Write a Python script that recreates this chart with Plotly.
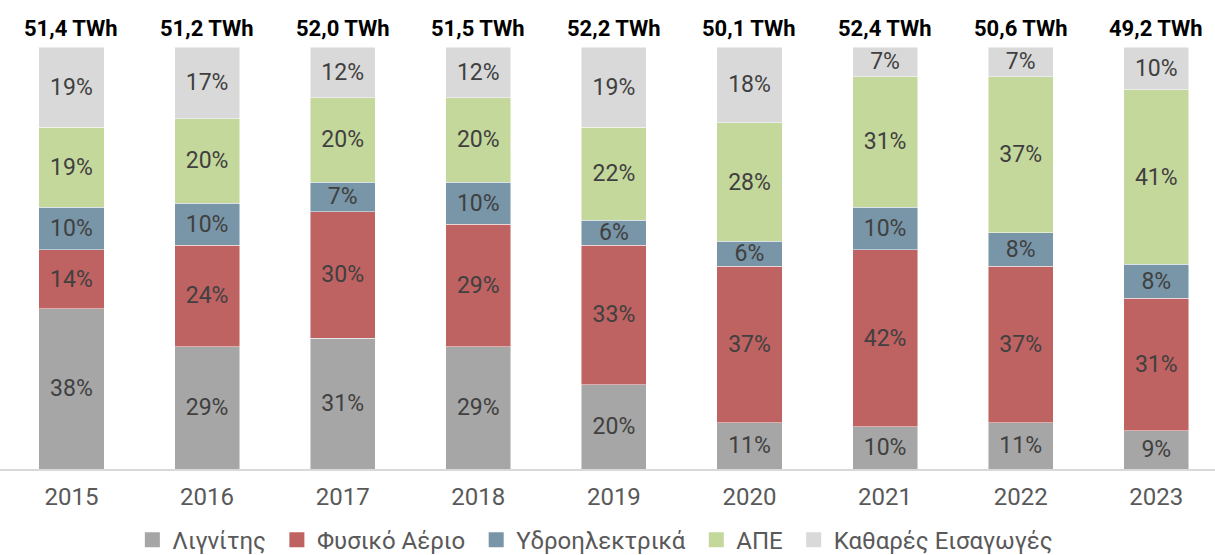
import plotly.graph_objects as go

years = ["2015", "2016", "2017", "2018", "2019", "2020", "2021", "2022", "2023"]
totals = ["51,4 TWh", "51,2 TWh", "52,0 TWh", "51,5 TWh", "52,2 TWh", "50,1 TWh", "52,4 TWh", "50,6 TWh", "49,2 TWh"]

lignite = [38, 29, 31, 29, 20, 11, 10, 11, 9]
gas = [14, 24, 30, 29, 33, 37, 42, 37, 31]
hydro = [10, 10, 7, 10, 6, 6, 10, 8, 8]
res = [19, 20, 20, 20, 22, 28, 31, 37, 41]
imports = [19, 17, 12, 12, 19, 18, 7, 7, 10]

series = [
    ("Λιγνίτης", lignite, "#A6A6A6"),
    ("Φυσικό Αέριο", gas, "#BF6262"),
    ("Υδροηλεκτρικά", hydro, "#7896A8"),
    ("ΑΠΕ", res, "#C5D89C"),
    ("Καθαρές Εισαγωγές", imports, "#D9D9D9"),
]

x = list(range(len(years)))
fig = go.Figure()
for name, vals, color in series:
    fig.add_trace(go.Bar(
        x=x, y=vals, name=name, showlegend=False,
        marker=dict(color=color, line=dict(color="rgba(255,255,255,0.6)", width=0.8)),
        text=[f"{v}%" for v in vals],
        textposition="inside", insidetextanchor="middle", textangle=0,
        textfont=dict(family="Roboto", size=23, color="#404040"),
        hoverinfo="skip",
    ))

# legend entries with square swatches
for k, (name, vals, color) in enumerate(series):
    label = name + ("\u00a0" if k < len(series) - 1 else "")
    fig.add_trace(go.Scatter(
        x=[None], y=[None], mode="markers", name=label,
        marker=dict(symbol="square", size=15, color=color),
        hoverinfo="skip", showlegend=True,
    ))

for i, t in enumerate(totals):
    fig.add_annotation(x=i, y=100, xref="x", yref="y", text=f"<b>{t}</b>",
                       showarrow=False, yanchor="bottom", yshift=4,
                       font=dict(family="Roboto", size=22, color="#000000"))

fig.update_layout(
    width=1215, height=555,
    barmode="stack", barnorm="percent", bargap=0.52,
    margin=dict(l=0, r=0, t=47, b=86, autoexpand=False),
    paper_bgcolor="white", plot_bgcolor="white",
    font=dict(family="Roboto", color="#595959"),
    uniformtext=dict(minsize=23, mode="show"),
    showlegend=True,
    legend=dict(orientation="h", x=0.49, xanchor="center", y=-0.222, yanchor="bottom",
                font=dict(family="Roboto", size=24, color="#595959"),
                itemwidth=30, traceorder="normal"),
    xaxis=dict(tickmode="array", tickvals=x, ticktext=years, range=[-0.527, 8.433],
               showline=True, linecolor="#D9D9D9", linewidth=2, ticks="",
               ticklabelstandoff=5,
               tickfont=dict(family="Roboto", size=24, color="#595959"),
               showgrid=False, zeroline=False, fixedrange=True),
    yaxis=dict(range=[0, 100], visible=False, showgrid=False, zeroline=False, fixedrange=True),
)

fig.write_html("out.html", config={"displayModeBar": False},
               post_script="document.body.style.margin='0';document.body.style.overflow='hidden';")
